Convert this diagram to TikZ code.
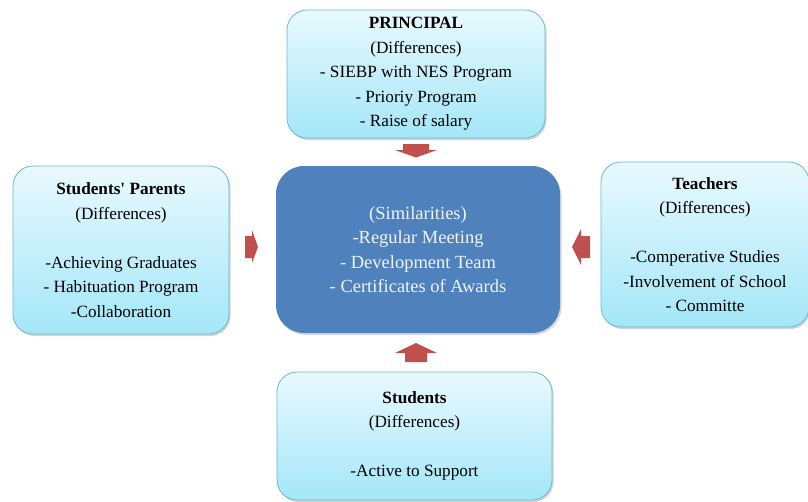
\documentclass[tikz,border=0pt]{standalone}
\usepackage{fontspec}
\setmainfont{Liberation Serif}
\usetikzlibrary{shadows}
\definecolor{boxtop}{HTML}{E9F9FE}
\definecolor{boxbot}{HTML}{A3E7F8}
\definecolor{boxline}{HTML}{6CB8CF}
\definecolor{centerblue}{HTML}{4F81BD}
\definecolor{arrowred}{HTML}{C0504D}
\definecolor{centertext}{HTML}{F0F4FA}
\newcommand{\sq}{{\addfontfeatures{Ligatures=TeXOff}'}}
\tikzset{
  diffbox/.style={draw=boxline, line width=0.8pt, rounded corners=20pt,
    top color=boxtop, bottom color=boxbot, align=center,
    font=\fontsize{17.2}{24.5}\selectfont, inner sep=0pt,
    drop shadow={shadow xshift=1.5pt, shadow yshift=-2pt, opacity=0.35}},
  simbox/.style={fill=centerblue, rounded corners=28pt, align=center,
    text=centertext, font=\fontsize{18.5}{24.5}\selectfont, inner sep=0pt,
    drop shadow={shadow xshift=1.5pt, shadow yshift=-2pt, opacity=0.3}},
  blockarrow/.style={fill=arrowred}
}
\begin{document}
\begin{tikzpicture}[x=1pt,y=-1pt]
\useasboundingbox (0,0) rectangle (808,501);
% boxes
\node[diffbox, minimum width=258pt, minimum height=128pt] (principal) at (416,74)
  {\textbf{PRINCIPAL}\\(Differences)\\- SIEBP with NES Program\\- Prioriy Program\\- Raise of salary};
\node[simbox, minimum width=284pt, minimum height=167pt] (center) at (418,249.5)
  {(Similarities)\\-Regular Meeting\\- Development Team\\- Certificates of Awards};
\node[diffbox, minimum width=216pt, minimum height=168pt] (parents) at (121,250)
  {\textbf{Students\sq{} Parents}\\(Differences)\\[24.5pt]-Achieving Graduates\\- Habituation Program\\-Collaboration};
\node[diffbox, minimum width=208pt, minimum height=165pt] (teachers) at (705,244.5)
  {\textbf{Teachers}\\(Differences)\\[24.5pt]-Comperative Studies\\-Involvement of School\\- Committe};
\node[diffbox, minimum width=275pt, minimum height=128pt] (students) at (414.5,436)
  {\textbf{Students}\\(Differences)\\[24.5pt]-Active to Support};
% block arrows
\coordinate (ta) at (416,144);
\fill[blockarrow] (ta) ++(-13,0) -- ++(26,0) -- ++(0,6) -- ++(8,0) -- (416,157.5) -- (395,150) -- ++(8,0) -- cycle;
\coordinate (ba) at (416,362);
\fill[blockarrow] (ba) ++(-11,0) -- ++(22,0) -- ++(0,-9) -- ++(10,0) -- (416,343) -- (395,353) -- ++(10,0) -- cycle;
\coordinate (la) at (245,247);
\fill[blockarrow] (la) ++(0,-11) -- ++(7,0) -- ++(0,-6) -- (258,247) -- (252,263) -- ++(0,-5) -- ++(-7,0) -- cycle;
\coordinate (ra) at (590,247);
\fill[blockarrow] (ra) ++(0,-11) -- ++(-9,0) -- ++(0,-7) -- (572,247) -- (581,265) -- ++(0,-7) -- ++(9,0) -- cycle;
\end{tikzpicture}
\end{document}
